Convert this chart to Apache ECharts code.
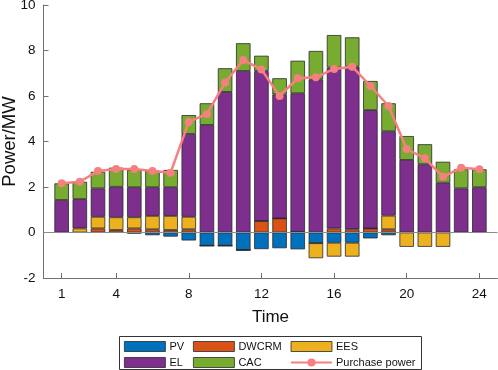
<!DOCTYPE html>
<html lang="en">
<head>
    <meta charset="UTF-8">
    <title>Power balance</title>
    <script src="https://cdn.jsdelivr.net/npm/echarts@6/dist/echarts.min.js"></script>
    <style>
        html, body { margin: 0; padding: 0; background: #fff; }
    </style>
</head>
<body>
    <div id="main" style="width: 498px;height:370px;"></div>
    <script>
        // hours 0..25 on the axis, bars only at 1..24
        var hours = ['0','1','2','3','4','5','6','7','8','9','10','11','12','13','14','15','16','17','18','19','20','21','22','23','24','25'];
        var tickLabels = ['1', '4', '8', '12', '16', '20', '24'];

        var pv = [0, 0, 0, 0, -0.05, -0.12, -0.18, -0.35, -0.58, -0.58, -0.77, -0.73, -0.69, -0.74, -0.47, -0.45, -0.45, -0.26, -0.12, 0, 0, 0, 0, 0];
        var dwcrm = [0, 0, 0.18, 0.11, 0.18, 0.14, 0.11, 0.14, 0, 0, 0, 0.51, 0.62, 0.03, 0, 0.18, 0.14, 0.18, 0.14, 0, 0, 0, 0, 0];
        var ees = [0, 0.18, 0.51, 0.56, 0.49, 0.59, 0.62, 0.55, 0, 0, 0, 0, 0, 0, -0.66, -0.61, -0.61, 0, 0.6, -0.63, -0.63, -0.63, 0, 0];
        var el = [1.43, 1.29, 1.25, 1.34, 1.32, 1.26, 1.26, 3.64, 4.73, 6.18, 7.10, 6.59, 5.45, 6.09, 6.73, 7.07, 7.15, 5.20, 3.71, 3.19, 3.00, 2.19, 1.94, 1.99];
        var cac = [0.73, 0.76, 0.73, 0.84, 0.76, 0.73, 0.76, 0.83, 0.95, 1.04, 1.22, 0.67, 0.71, 1.43, 1.25, 1.43, 1.29, 1.28, 1.23, 1.05, 0.88, 0.92, 0.84, 0.79];
        var purchase = [2.16, 2.23, 2.70, 2.79, 2.79, 2.70, 2.63, 4.86, 5.21, 6.59, 7.58, 7.17, 6.00, 6.78, 6.82, 7.19, 7.29, 6.44, 5.56, 3.67, 3.26, 2.45, 2.85, 2.78];

        function pad(arr) {
            return [null].concat(arr, [null]);
        }

        var font = '"Liberation Sans", Arial, sans-serif';
        var axisGray = '#707070';

        function barSeries(name, data, color) {
            return {
                name: name,
                type: 'bar',
                stack: 'p',
                barWidth: 14.5,
                data: pad(data),
                itemStyle: { color: color, borderColor: '#2a2a2a', borderWidth: 0.8 },
                emphasis: { disabled: true }
            };
        }

        var chart = echarts.init(document.getElementById('main'));

        var legendCommon = {
            orient: 'vertical',
            top: 341,
            itemWidth: 41,
            itemHeight: 10,
            itemGap: 5,
            padding: 0,
            itemStyle: { borderWidth: 0.8 },
            textStyle: { fontSize: 11, color: '#111', fontFamily: font, padding: [0, 0, 0, -1] }
        };

        var option = {
            animation: false,
            textStyle: { fontFamily: font },
            grid: { left: 43.5, right: 0.5, top: 5, bottom: 92, containLabel: false, outerBoundsMode: 'none' },
            legend: [
                Object.assign({ left: 124, data: [{ name: 'PV', icon: 'rect' }, { name: 'EL', icon: 'rect' }] }, legendCommon),
                Object.assign({ left: 193, data: [{ name: 'DWCRM', icon: 'rect' }, { name: 'CAC', icon: 'rect' }] }, legendCommon),
                Object.assign({ left: 290, data: [{ name: 'EES', icon: 'rect' }, 'Purchase power'] }, legendCommon)
            ],
            graphic: [{
                type: 'rect',
                z: -1,
                shape: { x: 119.5, y: 336.5, width: 302, height: 33 },
                style: { fill: '#fff', stroke: '#333', lineWidth: 1 }
            }],
            xAxis: {
                type: 'category',
                data: hours,
                boundaryGap: false,
                name: 'Time',
                nameLocation: 'middle',
                nameGap: 31,
                nameMoveOverlap: false,
                nameTextStyle: { fontSize: 17, color: '#111' },
                axisLine: { onZero: false, lineStyle: { color: axisGray, width: 1 } },
                axisTick: {
                    inside: true, length: 5,
                    lineStyle: { color: axisGray },
                    interval: function (i, v) { return tickLabels.indexOf(v) >= 0; }
                },
                axisLabel: {
                    fontSize: 13.5, color: '#111', margin: 9,
                    interval: function (i, v) { return tickLabels.indexOf(v) >= 0; }
                },
                splitLine: { show: false }
            },
            yAxis: {
                type: 'value',
                min: -2,
                max: 10,
                interval: 2,
                name: 'Power/MW',
                nameLocation: 'middle',
                nameGap: 24,
                nameMoveOverlap: false,
                nameTextStyle: { fontSize: 18.5, color: '#111' },
                axisLine: { show: true, lineStyle: { color: axisGray, width: 1 } },
                axisTick: { show: true, inside: true, length: 5, lineStyle: { color: axisGray } },
                axisLabel: { fontSize: 13.5, color: '#111', margin: 8 },
                splitLine: { show: false }
            },
            series: [
                Object.assign(barSeries('PV', pv, '#0072BD'), {
                    markLine: {
                        silent: true,
                        symbol: 'none',
                        label: { show: false },
                        lineStyle: { color: '#8c8c8c', type: 'solid', width: 1 },
                        data: [{ yAxis: 0 }]
                    }
                }),
                barSeries('DWCRM', dwcrm, '#D95319'),
                barSeries('EES', ees, '#EDB120'),
                barSeries('EL', el, '#7E2F8E'),
                barSeries('CAC', cac, '#77AC30'),
                {
                    name: 'Purchase power',
                    type: 'line',
                    data: pad(purchase),
                    z: 5,
                    symbol: 'circle',
                    symbolSize: 8,
                    lineStyle: { color: '#F67F7F', width: 2.5 },
                    itemStyle: { color: '#F67F7F' },
                    emphasis: { disabled: true }
                }
            ]
        };

        chart.setOption(option);
    </script>
</body>
</html>
